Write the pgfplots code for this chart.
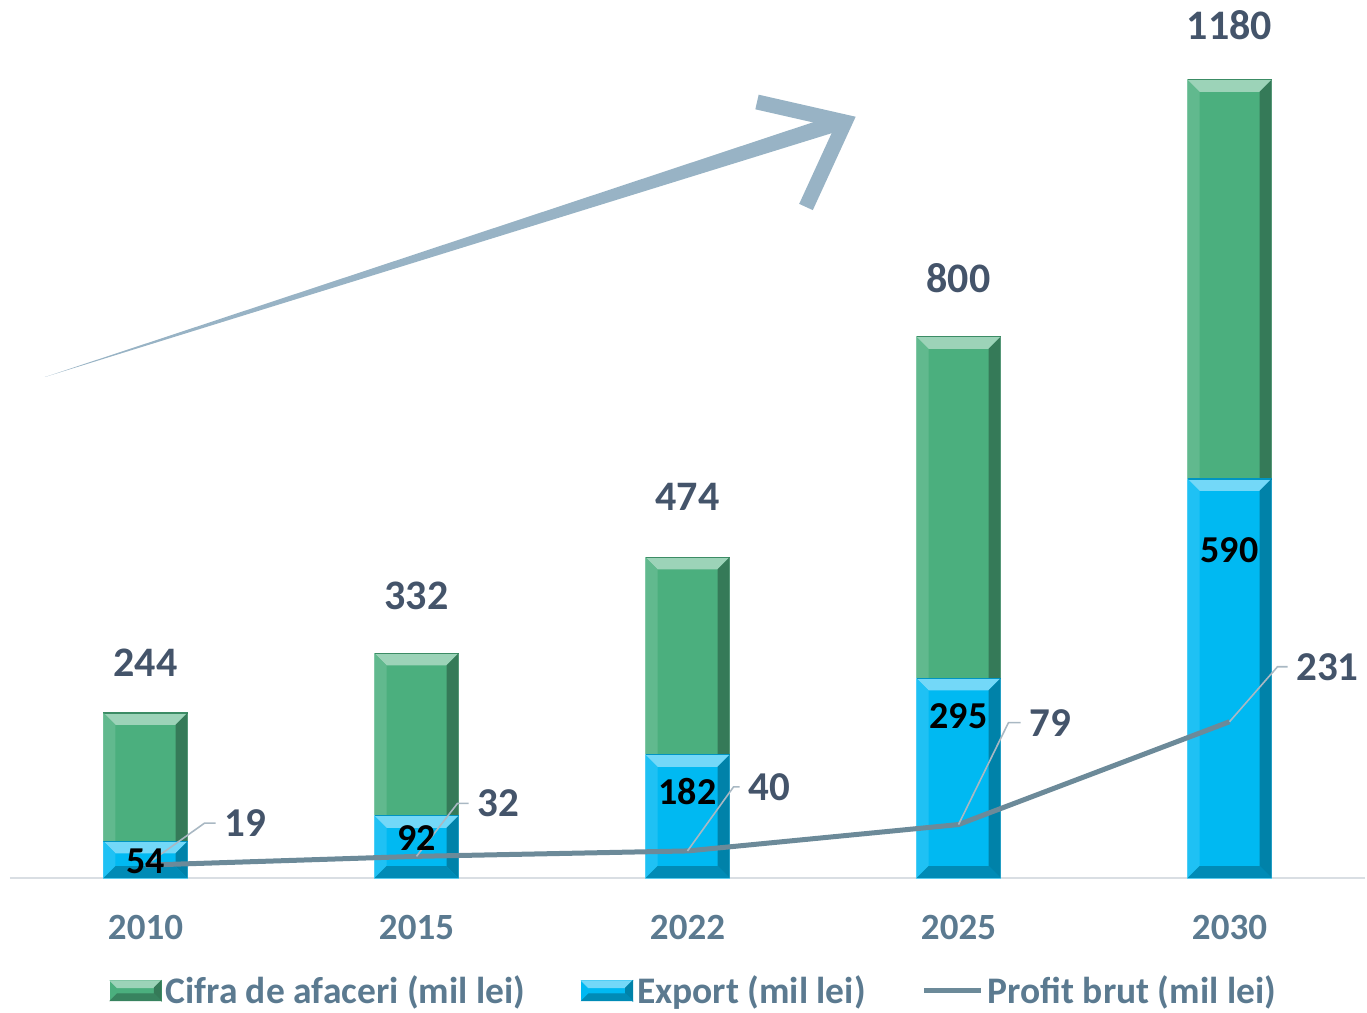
\documentclass[border=0pt]{standalone}
\usepackage{pgfplots}
\pgfplotsset{compat=1.18}
\usepackage{pgfplotstable}
\usepackage{fontspec}
\setmainfont{Carlito}
\definecolor{cgreen}{HTML}{4BAF7E}
\definecolor{cblue}{HTML}{00B9F2}
\definecolor{cline}{HTML}{6C8A99}
\definecolor{ctxt}{HTML}{44546A}
\definecolor{clab}{HTML}{5B7A90}
\definecolor{carrow}{HTML}{98B3C5}
\definecolor{cleader}{HTML}{A9B8C3}
\definecolor{caxis}{HTML}{D9DEE3}
\pgfplotstableread{
x total export profit boff toff
0 244 54 19 20 25
1 332 92 32 22 29
2 474 182 40 37 30.5
3 800 295 79 38 29.5
4 1180 590 231 71 27.5
}\datatable
% bevel decoration of a bar: #1 = x, #2 = bottom value, #3 = top value, #4 = base colour
\newcommand\bevel[4]{%
 \fill[#4!55!white] ([xshift=-21pt]axis cs:#1,#3) -- ([xshift=21pt]axis cs:#1,#3) -- ([xshift=15pt,yshift=-6pt]axis cs:#1,#3) -- ([xshift=-15pt,yshift=-6pt]axis cs:#1,#3) -- cycle;
 \draw[#4!80!black, line width=0.6pt] ([xshift=-21pt]axis cs:#1,#3) -- ([xshift=21pt]axis cs:#1,#3);
 \fill[#4!70!black] ([xshift=21pt]axis cs:#1,#3) -- ([xshift=21pt]axis cs:#1,#2) -- ([xshift=15pt,yshift=6pt]axis cs:#1,#2) -- ([xshift=15pt,yshift=-6pt]axis cs:#1,#3) -- cycle;
 \fill[#4!88!white] ([xshift=-21pt]axis cs:#1,#3) -- ([xshift=-21pt]axis cs:#1,#2) -- ([xshift=-15pt,yshift=6pt]axis cs:#1,#2) -- ([xshift=-15pt,yshift=-6pt]axis cs:#1,#3) -- cycle;
 \fill[#4!75!black] ([xshift=-21pt]axis cs:#1,#2) -- ([xshift=21pt]axis cs:#1,#2) -- ([xshift=15pt,yshift=6pt]axis cs:#1,#2) -- ([xshift=-15pt,yshift=6pt]axis cs:#1,#2) -- cycle;
}
\begin{document}
\begin{tikzpicture}
\useasboundingbox (-5pt,-67.5pt) rectangle (678.5pt,439pt);
\begin{scope}[x=0.5pt,y=-0.5pt,shift={(-5pt,439pt)}]
 \fill[carrow] (45,377) -- (838,114) -- (842,130) -- cycle;
 \draw[carrow, line width=7.5pt, miter limit=10] (757,102) -- (845,122) -- (806,207);
\end{scope}
\begin{axis}[
 at={(0pt,0pt)}, anchor=south west,
 scale only axis, width=677.5pt, height=439pt,
 xmin=-0.5, xmax=4.5, ymin=0, ymax=1298,
 clip=false,
 axis x line*=bottom, axis y line=none,
 x axis line style={-, draw=caxis, line width=1pt},
 xtick={0,1,2,3,4}, xticklabels={2010,2015,2022,2025,2030},
 xtick style={draw=none},
 xticklabel style={anchor=center, yshift=-24.5pt, text=clab, font=\fontsize{18.5}{18.5}\selectfont\bfseries},
 legend columns=3,
 legend style={at={(axis description cs:0.5055,-0.1285)}, anchor=center, draw=none, fill=none,
   font=\fontsize{18.75}{18.75}\selectfont\bfseries, text=clab,
   nodes={inner xsep=2pt, inner ysep=0pt},
   /tikz/every even column/.append style={column sep=26pt}},
]
\addplot[ybar, bar width=42pt, bar shift=0pt, fill=cgreen, draw=cgreen!60!white, line width=0.4pt,
  nodes near coords, point meta=explicit symbolic,
  visualization depends on={\thisrow{toff}\as\toff},
  nodes near coords style={anchor=center, yshift={1pt*\toff}, text=ctxt, font=\fontsize{21}{21}\selectfont\bfseries},
  legend image code/.code={\fill[cgreen] (0pt,-5pt) rectangle (25.5pt,5pt); \fill[cgreen!55!white] (0pt,5pt) -- (25.5pt,5pt) -- (22pt,1.5pt) -- (3.5pt,1.5pt) -- cycle; \fill[cgreen!70!black] (25.5pt,5pt) -- (25.5pt,-5pt) -- (22pt,-1.5pt) -- (22pt,1.5pt) -- cycle; \fill[cgreen!75!black] (0pt,-5pt) -- (25.5pt,-5pt) -- (22pt,-1.5pt) -- (3.5pt,-1.5pt) -- cycle;}]
  table[x=x, y=total, meta=total]{\datatable};
\pgfplotsinvokeforeach{0,...,4}{%
  \pgfplotstablegetelem{#1}{total}\of\datatable
  \edef\tmp{\noexpand\bevel{#1}{0}{\pgfplotsretval}{cgreen}}\tmp
}
\addplot[ybar, bar width=42pt, bar shift=0pt, fill=cblue, draw=cblue!60!white, line width=0.4pt,
  legend image code/.code={\fill[cblue] (0pt,-5pt) rectangle (25.5pt,5pt); \fill[cblue!55!white] (0pt,5pt) -- (25.5pt,5pt) -- (22pt,1.5pt) -- (3.5pt,1.5pt) -- cycle; \fill[cblue!70!black] (25.5pt,5pt) -- (25.5pt,-5pt) -- (22pt,-1.5pt) -- (22pt,1.5pt) -- cycle; \fill[cblue!75!black] (0pt,-5pt) -- (25.5pt,-5pt) -- (22pt,-1.5pt) -- (3.5pt,-1.5pt) -- cycle;}]
  table[x=x, y=export]{\datatable};
\pgfplotsinvokeforeach{0,...,4}{%
  \pgfplotstablegetelem{#1}{export}\of\datatable
  \edef\tmp{\noexpand\bevel{#1}{0}{\pgfplotsretval}{cblue}}\tmp
}
\addplot[draw=none, forget plot, mark=none,
  nodes near coords, point meta=explicit symbolic,
  visualization depends on={\thisrow{boff}\as\boff},
  nodes near coords style={anchor=center, yshift={-0.5pt*\boff}, text=black, font=\fontsize{19}{19}\selectfont\bfseries}]
  table[x=x, y=export, meta=export]{\datatable};
\addplot[cline, line width=2.5pt, mark=none,
  legend image code/.code={\draw[cline, line width=2.5pt] (0pt,0pt) -- (28.5pt,0pt);}]
  table[x=x, y=profit]{\datatable};
\legend{Cifra de afaceri (mil lei), Export (mil lei), Profit brut (mil lei)}
\begin{scope}[every node/.style={anchor=west, inner sep=0pt, xshift=4pt, text=ctxt, font=\fontsize{20.5}{20.5}\selectfont\bfseries}]
\draw[cleader, line width=0.8pt] (axis cs:0,19) -- ++(29.5pt,21pt) -- ++(5.5pt,0pt) node {19};
\draw[cleader, line width=0.8pt] (axis cs:1,32) -- ++(20.5pt,26.5pt) -- ++(5.5pt,0pt) node {32};
\draw[cleader, line width=0.8pt] (axis cs:2,40) -- ++(23pt,32pt) -- ++(3pt,0pt) node {40};
\draw[cleader, line width=0.8pt] (axis cs:3,79) -- ++(25pt,51pt) -- ++(6pt,0pt) node {79};
\draw[cleader, line width=0.8pt] (axis cs:4,231) -- ++(24pt,27.5pt) -- ++(5pt,0pt) node {231};
\end{scope}
\end{axis}
\end{tikzpicture}
\end{document}
